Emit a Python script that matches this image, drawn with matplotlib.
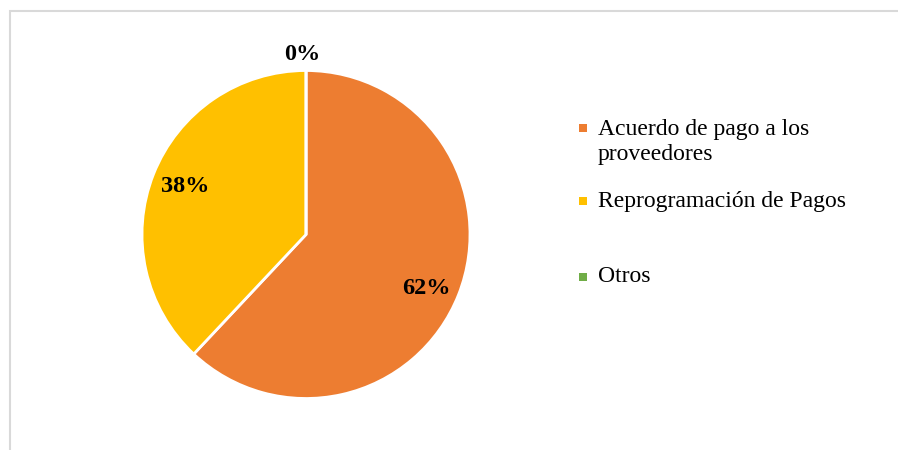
import matplotlib.pyplot as plt
from matplotlib.patches import Rectangle
import numpy as np

categories = ['Acuerdo de pago a los\nproveedores', 'Reprogramación de Pagos', 'Otros']
values = [62, 38, 0]
colors = ['#ED7D31', '#FFC000', '#70AD47']

W, H = 898, 450
fig = plt.figure(figsize=(W / 100, H / 100), dpi=100)

# light frame around the chart area (only top and left visible)
fig.patches.append(Rectangle((10 / W, -0.1), 1.5, (H - 11) / H + 0.1, transform=fig.transFigure,
                             fill=False, edgecolor='#d9d9d9', linewidth=1.5))

cx, cy, r = 306, 234.5, 164
ax = fig.add_axes([(cx - r) / W, (H - cy - r) / H, 2 * r / W, 2 * r / H])
wedges, texts, autotexts = ax.pie(values, colors=colors, startangle=90, counterclock=False,
                                  autopct='%.0f%%', pctdistance=0.79,
                                  wedgeprops=dict(edgecolor='white', linewidth=2),
                                  textprops=dict(family='Liberation Serif', fontsize=17.5,
                                                 fontweight='bold', color='black'))
ax.set_aspect('equal')
ax.set_xlim(-1, 1)
ax.set_ylim(-1, 1)

# the empty slice gets its label outside the pie
for w, t, v in zip(wedges, autotexts, values):
    if v == 0:
        ang = np.deg2rad(w.theta1)
        t.set_position((1.1 * np.cos(ang) - 0.02, 1.1 * np.sin(ang)))
    elif v == 62:
        x, y = t.get_position()
        t.set_position((x, y - 0.04))

# legend
ys = [142, 201, 277]
for lab, col, y in zip(categories, colors, ys):
    my = 128 if '\n' in lab else y
    fig.patches.append(Rectangle(((583 - 4) / W, (H - my - 4) / H), 8 / W, 8 / H,
                                 transform=fig.transFigure, facecolor=col, edgecolor='none'))
    fig.text(598 / W, (H - y) / H, lab, family='Liberation Serif', fontsize=17,
             va='center', ha='left', linespacing=1.3)

fig.savefig('out.png', dpi=100)
